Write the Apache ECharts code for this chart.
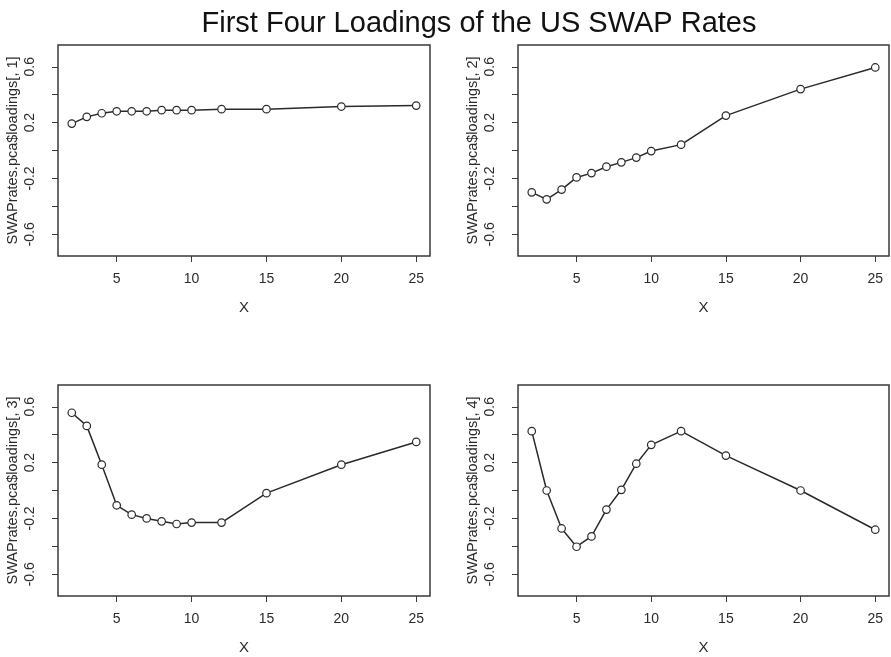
<!DOCTYPE html>
<html>
<head>
<meta charset="utf-8">
<title>First Four Loadings of the US SWAP Rates</title>
<script src="https://cdn.jsdelivr.net/npm/echarts@6/dist/echarts.min.js"></script>
<style>
  html, body { margin: 0; padding: 0; background: #ffffff; }
  #chart { width: 891px; height: 657px; }
</style>
</head>
<body>
<div id="chart"></div>
<script>
// Swap maturities (years)
const maturities = [2, 3, 4, 5, 6, 7, 8, 9, 10, 12, 15, 20, 25];

// Loadings of the first four principal components
const loading1 = [0.193, 0.241, 0.267, 0.281, 0.281, 0.281, 0.289, 0.289, 0.289, 0.296, 0.296, 0.315, 0.322];
const loading2 = [-0.300, -0.350, -0.280, -0.193, -0.162, -0.116, -0.085, -0.051, -0.004, 0.042, 0.250, 0.440, 0.595];
const loading3 = [0.557, 0.463, 0.185, -0.106, -0.173, -0.200, -0.221, -0.240, -0.230, -0.230, -0.019, 0.185, 0.348];
const loading4 = [0.425, 0.000, -0.272, -0.403, -0.329, -0.137, 0.005, 0.192, 0.327, 0.425, 0.250, 0.000, -0.281];

const loadings = [loading1, loading2, loading3, loading4];
const yNames = [
  'SWAPrates.pca$loadings[, 1]',
  'SWAPrates.pca$loadings[, 2]',
  'SWAPrates.pca$loadings[, 3]',
  'SWAPrates.pca$loadings[, 4]'
];

// Axis ticks and labels
const xTicks = [5, 10, 15, 20, 25];
const yTicks = [-0.6, -0.4, -0.2, 0, 0.2, 0.4, 0.6];
const yLabels = [-0.6, -0.2, 0.2, 0.6];

const FONT = '"Liberation Sans", Arial, Helvetica, sans-serif';
const INK = '#2b2b2b';

const grids = [
  { left: 58,  top: 45,  width: 372, height: 211 },
  { left: 518, top: 45,  width: 371, height: 211 },
  { left: 58,  top: 385, width: 372, height: 211 },
  { left: 518, top: 385, width: 371, height: 211 }
].map(g => Object.assign({
  show: true,
  borderColor: '#3a3a3a',
  borderWidth: 1.5,
  backgroundColor: '#ffffff',
  containLabel: false
}, g));

const xAxes = grids.map((g, i) => ({
  type: 'value',
  gridIndex: i,
  min: 1.08,
  max: 25.92,
  name: 'X',
  nameLocation: 'middle',
  nameGap: 44,
  nameTextStyle: { fontFamily: FONT, fontSize: 15, color: INK },
  axisLine: { show: false, onZero: false },
  splitLine: { show: false },
  axisTick: { show: true, inside: false, length: 6, customValues: xTicks,
              lineStyle: { color: '#3a3a3a', width: 1 } },
  axisLabel: { customValues: xTicks, margin: 16, fontFamily: FONT, fontSize: 14, color: INK }
}));

const yAxes = grids.map((g, i) => ({
  type: 'value',
  gridIndex: i,
  min: -0.756,
  max: 0.756,
  name: yNames[i],
  nameLocation: 'middle',
  nameRotate: 90,
  nameGap: 38,
  nameTextStyle: { fontFamily: FONT, fontSize: 14.5, color: INK },
  axisLine: { show: false, onZero: false },
  splitLine: { show: false },
  axisTick: { show: true, inside: false, length: 6, customValues: yTicks,
              lineStyle: { color: '#3a3a3a', width: 1 } },
  axisLabel: {
    customValues: yLabels,
    rotate: 90,
    margin: 21,
    fontFamily: FONT, fontSize: 14, color: INK,
    formatter: v => String(Math.round(v * 10) / 10)
  }
}));

const series = loadings.map((vals, i) => ({
  type: 'line',
  xAxisIndex: i,
  yAxisIndex: i,
  data: maturities.map((m, k) => [m, vals[k]]),
  symbol: 'circle',
  symbolSize: 7.5,
  showSymbol: true,
  lineStyle: { color: '#2a2a2a', width: 1.5 },
  itemStyle: { color: '#ffffff', borderColor: '#2a2a2a', borderWidth: 1.2 },
  emphasis: { disabled: true },
  animation: false
}));

const chart = echarts.init(document.getElementById('chart'), null, { renderer: 'canvas' });
chart.setOption({
  backgroundColor: '#ffffff',
  animation: false,
  title: {
    text: 'First Four Loadings of the US SWAP Rates',
    left: 474,
    top: 4,
    textAlign: 'center',
    textStyle: { fontFamily: FONT, fontSize: 29, fontWeight: 'normal', color: '#111111' }
  },
  grid: grids,
  xAxis: xAxes,
  yAxis: yAxes,
  series: series
});
</script>
</body>
</html>
